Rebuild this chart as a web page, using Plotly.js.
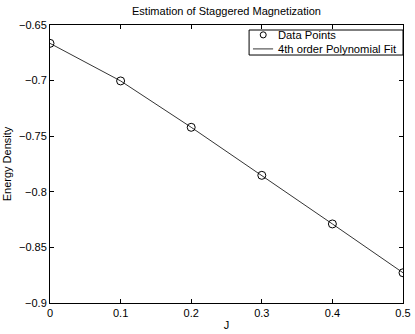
<!DOCTYPE html>
<html>
<head>
<meta charset="utf-8">
<script src="https://cdn.plot.ly/plotly-3.0.1.min.js"></script>
<style>
  html, body { margin: 0; padding: 0; background: #fff; }
  #chart { width: 415px; height: 334px; }
</style>
</head>
<body>
<div id="chart"></div>
<script>
// values
const couplingJ = [0, 0.1, 0.2, 0.3, 0.4, 0.5];
const energyDensity = [-0.6665, -0.7003, -0.742, -0.7852, -0.8289, -0.8728];
const seriesNames = ['Data Points', '4th order Polynomial Fit'];

const fontFamily = 'Liberation Sans, Arial, Helvetica, sans-serif';

/**
 * Axis in the boxed style: inward ticks mirrored on all sides
 */
function boxAxis(opts) {
	return Object.assign({
		showline: true,
		linecolor: '#000',
		linewidth: 1,
		mirror: 'ticks',
		ticks: 'inside',
		ticklen: 4,
		tickcolor: '#000',
		showgrid: false,
		zeroline: false,
		tickfont: { family: fontFamily, size: 11, color: '#000' },
	}, opts);
}

const data = [
	{
		x: couplingJ,
		y: energyDensity,
		name: seriesNames[0],
		type: 'scatter',
		mode: 'markers',
		marker: {
			symbol: 'circle-open',
			size: 8,
			color: '#000',
			line: { width: 1, color: '#000' },
		},
	},
	{
		x: couplingJ,
		y: energyDensity,
		name: seriesNames[1],
		type: 'scatter',
		mode: 'lines',
		line: { color: '#000', width: 0.8 },
	},
];

/**
 * Compact boxed legend (plotly's own legend rows are too tall for this look)
 */
const legendShapes = [
	{ type: 'rect', xref: 'paper', yref: 'paper', x0: 0.564, x1: 1, y0: 0.892, y1: 0.982,
		fillcolor: '#fff', line: { color: '#000', width: 1 }, layer: 'above' },
	{ type: 'circle', xref: 'paper', yref: 'paper', x0: 0.5955, x1: 0.6125, y0: 0.9535, y1: 0.9755,
		line: { color: '#000', width: 1 }, layer: 'above' },
	{ type: 'line', xref: 'paper', yref: 'paper', x0: 0.575, x1: 0.632, y0: 0.914, y1: 0.914,
		line: { color: '#000', width: 0.8 }, layer: 'above' },
];
const legendLabels = seriesNames.map((name, i) => ({
	xref: 'paper', yref: 'paper',
	x: 0.64, y: [0.964, 0.914][i],
	xanchor: 'left', yanchor: 'middle',
	text: name, showarrow: false,
	font: { family: fontFamily, size: 11.2, color: '#000' },
}));

const layout = {
	width: 415,
	height: 334,
	margin: { l: 50, r: 12, t: 25, b: 31 },
	paper_bgcolor: '#fff',
	plot_bgcolor: '#fff',
	font: { family: fontFamily, size: 11, color: '#000' },
	title: {
		text: 'Estimation of Staggered Magnetization',
		font: { family: fontFamily, size: 11, color: '#000' },
		x: 0.5,
		xref: 'paper',
		y: 1,
		yref: 'container',
		yanchor: 'top',
		pad: { t: 7 },
	},
	xaxis: boxAxis({
		range: [0, 0.5],
		tick0: 0,
		dtick: 0.1,
		title: { text: 'J', font: { family: fontFamily, size: 11 }, standoff: 3 },
	}),
	yaxis: boxAxis({
		range: [-0.9, -0.65],
		tick0: -0.9,
		dtick: 0.05,
		title: { text: 'Energy Density', font: { family: fontFamily, size: 11 }, standoff: 5 },
	}),
	showlegend: false,
	shapes: legendShapes,
	annotations: legendLabels,
};

Plotly.newPlot('chart', data, layout, { displayModeBar: false, staticPlot: true });
</script>
</body>
</html>
